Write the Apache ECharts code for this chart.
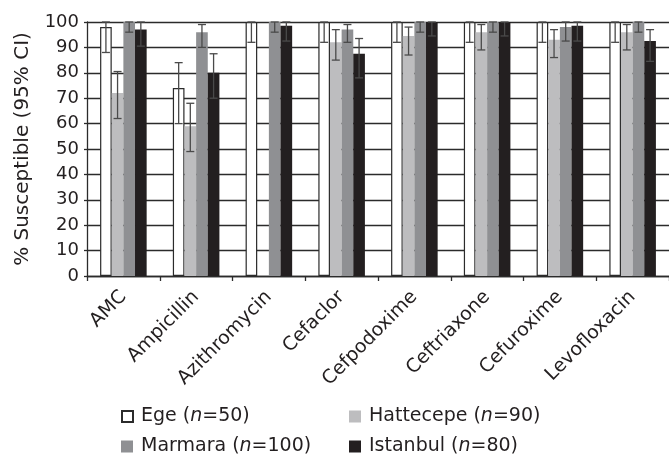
<!DOCTYPE html>
<html>
<head>
<meta charset="utf-8">
<script src="https://cdn.jsdelivr.net/npm/echarts@6/dist/echarts.min.js"></script>
<style>
html,body{margin:0;padding:0;background:#fff;}
#chart{width:669px;height:455px;}
</style>
</head>
<body>
<div id="chart"></div>
<script>
const categories = ['AMC','Ampicillin','Azithromycin','Cefaclor','Cefpodoxime','Ceftriaxone','Cefuroxime','Levofloxacin'];
const groupNames = ['Ege','Hattecepe','Marmara','Istanbul'];
const groupN = [50, 90, 100, 80];

const egeValues       = [98, 74, 100, 100, 100, 100, 100, 100];
const egeLow          = [88, 60, 92, 92, 92, 92, 92, 92];
const egeHigh         = [100, 84, 100, 100, 100, 100, 100, 100];

const hattecepeValues = [72, 59, null, 92, 94.5, 96, 93, 96];
const hattecepeLow    = [62, 49, null, 85, 87, 89, 86, 89];
const hattecepeHigh   = [80.5, 68, null, 97, 98, 99, 97, 99];

const marmaraValues   = [100, 96, 100, 97, 100, 100, 98, 100];
const marmaraLow      = [96, 90, 96, 92, 96, 96, 92.5, 96];
const marmaraHigh     = [100, 99, 100, 99, 100, 100, 100, 100];

const istanbulValues  = [97, 80, 98.5, 87.5, 100, 100, 98.5, 92.5];
const istanbulLow     = [90.5, 70, 92.5, 78, 94.5, 94.5, 92.5, 84.5];
const istanbulHigh    = [100, 87.5, 100, 93.5, 100, 100, 100, 97];

const yTicks = [0,10,20,30,40,50,60,70,80,90,100];

const values = [egeValues, hattecepeValues, marmaraValues, istanbulValues];
const lows = [egeLow, hattecepeLow, marmaraLow, istanbulLow];
const highs = [egeHigh, hattecepeHigh, marmaraHigh, istanbulHigh];

const FONT = 'DejaVu Sans';
const TEXT = '#231f20';
const GAP = 0.36;
const fills = ['#ffffff', '#bdbdbf', '#8f9093', '#231f20'];

const chart = echarts.init(document.getElementById('chart'), null, {renderer: 'canvas'});

const series = [];
groupNames.forEach((g, k) => {
  series.push({
    name: g,
    type: 'bar',
    barGap: '0%',
    barCategoryGap: (GAP * 100) + '%',
    data: values[k].map(v => v == null ? '-' : v),
    itemStyle: k === 0 ? {color: fills[k], borderColor: '#2b2b2b', borderWidth: 1.2} : {color: fills[k]},
    z: 2
  });
});
groupNames.forEach((g, k) => {
  const data = [];
  lows[k].forEach((lo, i) => { if (lo != null) data.push([i, lo, highs[k][i]]); });
  series.push({
    type: 'custom',
    name: g + '_ci',
    data: data,
    encode: {x: 0, y: [1, 2]},
    z: 5,
    silent: true,
    renderItem: function (params, api) {
      const ci = api.value(0);
      const lo = api.coord([ci, api.value(1)]);
      const hi = api.coord([ci, api.value(2)]);
      const band = api.size([1, 0])[0];
      const used = band * (1 - GAP);
      const bw = used / 4;
      const x = lo[0] - used / 2 + bw * (k + 0.5);
      const cap = 4;
      const st = {stroke: '#4a4a4a', lineWidth: 1.3};
      return {
        type: 'group',
        children: [
          {type: 'line', shape: {x1: x, y1: lo[1], x2: x, y2: hi[1]}, style: st},
          {type: 'line', shape: {x1: x - cap, y1: lo[1], x2: x + cap, y2: lo[1]}, style: st},
          {type: 'line', shape: {x1: x - cap, y1: hi[1], x2: x + cap, y2: hi[1]}, style: st}
        ]
      };
    }
  });
});

const legendPos = [[116, 402], [344, 402], [116, 432], [344, 432]];
const legends = groupNames.map((g, k) => ({
  data: [g],
  left: legendPos[k][0],
  top: legendPos[k][1],
  orient: 'horizontal',
  itemWidth: k === 0 ? 11 : 12,
  itemHeight: k === 0 ? 11 : 12,
  icon: 'rect',
  selectedMode: false,
  formatter: name => name + ' ({i|n}=' + groupN[k] + ')',
  textStyle: {
    fontFamily: FONT, fontSize: 19, color: TEXT, padding: [0, 0, 0, 3],
    rich: {i: {fontFamily: FONT, fontSize: 19, fontStyle: 'italic', color: TEXT}}
  }
}));

chart.setOption({
  animation: false,
  backgroundColor: '#fff',
  grid: {left: 87, right: 0, top: 22, bottom: 179, containLabel: false},
  legend: legends,
  xAxis: {
    type: 'category',
    data: categories,
    axisLine: {lineStyle: {color: '#2b2b2b', width: 1.3}},
    axisTick: {show: true, length: 5, lineStyle: {color: '#2b2b2b', width: 1.3}},
    axisLabel: {rotate: 45, margin: 18, fontFamily: FONT, fontSize: 19, color: TEXT, interval: 0},
    splitLine: {show: false}
  },
  yAxis: {
    type: 'value',
    min: yTicks[0],
    max: yTicks[yTicks.length - 1],
    interval: 10,
    name: '% Susceptible (95% CI)',
    nameLocation: 'middle',
    nameGap: 54,
    nameRotate: 90,
    nameTextStyle: {fontFamily: FONT, fontSize: 20, color: TEXT},
    axisLine: {show: true, lineStyle: {color: '#2b2b2b', width: 1.3}},
    axisTick: {show: true, length: 3, lineStyle: {color: '#2b2b2b', width: 1.3}},
    axisLabel: {fontFamily: FONT, fontSize: 18, color: TEXT, margin: 8},
    splitLine: {show: true, lineStyle: {color: '#2b2b2b', width: 1.3}}
  },
  series: series
});
</script>
</body>
</html>
